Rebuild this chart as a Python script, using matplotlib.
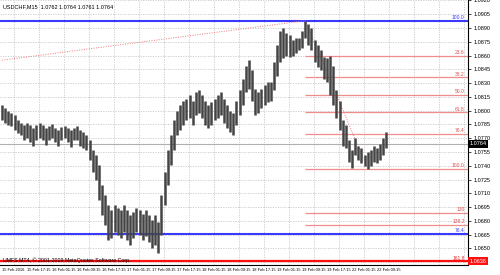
import matplotlib
matplotlib.use("Agg")
import matplotlib.pyplot as plt
import matplotlib.transforms as mtransforms
import numpy as np

plt.rcParams['font.family'] = ['Liberation Sans', 'DejaVu Sans']

title = "USDCHF,M15  1.0762 1.0764 1.0761 1.0764"
footer = "UMFS MT4, \u00a9 2001-2009 MetaQuotes Software Corp."

# hourly high / low
highs = [1.0806, 1.0803, 1.0800, 1.0798, 1.0795, 1.0790, 1.0787, 1.0784, 1.0787, 1.0784,
         1.0781, 1.0784, 1.0787, 1.0784, 1.0781, 1.0783, 1.0785, 1.0781, 1.0779, 1.0782,
         1.0783, 1.0781, 1.0779, 1.0781, 1.0783, 1.0779, 1.0777, 1.0773, 1.0768, 1.0757,
         1.0752, 1.0741, 1.0719, 1.0708, 1.0697, 1.0692, 1.0697, 1.0694, 1.0692, 1.0697,
         1.0692, 1.0686, 1.0690, 1.0694, 1.0692, 1.0687, 1.0692, 1.0686, 1.0681, 1.0686,
         1.0679, 1.0708, 1.0733, 1.0757, 1.0773, 1.0790, 1.0800, 1.0806, 1.0811, 1.0813,
         1.0817, 1.0811, 1.0820, 1.0822, 1.0817, 1.0811, 1.0806, 1.0809, 1.0813, 1.0817,
         1.0820, 1.0813, 1.0806, 1.0800, 1.0798, 1.0811, 1.0822, 1.0835, 1.0849, 1.0855,
         1.0844, 1.0824, 1.0820, 1.0824, 1.0828, 1.0831, 1.0831, 1.0853, 1.0871, 1.0887,
         1.0890, 1.0885, 1.0882, 1.0877, 1.0879, 1.0879, 1.0887, 1.0898, 1.0894, 1.0890,
         1.0877, 1.0871, 1.0866, 1.0859, 1.0857, 1.0860, 1.0849, 1.0822, 1.0811, 1.0790,
         1.0784, 1.0768, 1.0757, 1.0770, 1.0762, 1.0759, 1.0752, 1.0755, 1.0757, 1.0762,
         1.0759, 1.0764, 1.0770, 1.0777]
lows = [1.0790, 1.0787, 1.0784, 1.0783, 1.0779, 1.0776, 1.0773, 1.0768, 1.0770, 1.0766,
        1.0762, 1.0768, 1.0770, 1.0768, 1.0763, 1.0768, 1.0770, 1.0766, 1.0762, 1.0768,
        1.0770, 1.0766, 1.0761, 1.0768, 1.0768, 1.0762, 1.0759, 1.0757, 1.0746, 1.0733,
        1.0724, 1.0703, 1.0686, 1.0675, 1.0659, 1.0661, 1.0668, 1.0665, 1.0661, 1.0668,
        1.0659, 1.0654, 1.0661, 1.0668, 1.0665, 1.0659, 1.0663, 1.0657, 1.0650, 1.0654,
        1.0645, 1.0665, 1.0697, 1.0719, 1.0741, 1.0757, 1.0773, 1.0779, 1.0784, 1.0790,
        1.0792, 1.0784, 1.0795, 1.0798, 1.0792, 1.0784, 1.0781, 1.0784, 1.0790, 1.0792,
        1.0795, 1.0787, 1.0781, 1.0777, 1.0773, 1.0784, 1.0795, 1.0806, 1.0820, 1.0824,
        1.0811, 1.0795, 1.0798, 1.0803, 1.0806, 1.0809, 1.0811, 1.0822, 1.0838, 1.0853,
        1.0857, 1.0860, 1.0859, 1.0860, 1.0863, 1.0866, 1.0868, 1.0879, 1.0871, 1.0866,
        1.0853, 1.0848, 1.0844, 1.0835, 1.0831, 1.0817, 1.0806, 1.0792, 1.0779, 1.0762,
        1.0759, 1.0744, 1.0738, 1.0752, 1.0746, 1.0743, 1.0740, 1.0737, 1.0740, 1.0744,
        1.0743, 1.0746, 1.0752, 1.0759]
last_price = 1.0764

date_labels = ["15 Feb 2016", "15 Feb 17:15", "16 Feb 01:15", "16 Feb 09:15",
               "16 Feb 17:15", "17 Feb 01:15", "17 Feb 09:15", "17 Feb 17:15",
               "18 Feb 01:15", "18 Feb 09:15", "18 Feb 17:15", "19 Feb 01:15",
               "19 Feb 09:15", "19 Feb 17:15", "22 Feb 01:15", "22 Feb 09:15"]
price_ticks = [1.0920 - 0.0015 * k for k in range(20)]

fib_high, fib_low = 1.0898, 1.0737
fib_start = 97
fib_levels = [0.236, 0.382, 0.5, 0.618, 0.764, 1.0, 1.3, 1.382]
fib_names = ["23.6", "38.2", "50.0", "61.8", "76.4", "100.0", "130", "138.2"]
blue_lines = [(1.0898, "100.0"), (1.0666, "76.4")]
red_line = (1.0636, "161.8")
trend_start = 1.0855

fig = plt.figure(figsize=(5, 2.75), dpi=100)
ax = fig.add_axes([0, 10 / 275, 468 / 500, 265 / 275])

x = np.arange(len(highs))
x0, x1 = -0.64, 149.12
ax.set_xlim(x0, x1)
ax.set_ylim(1.0920 - 265 / 9200, 1.0920 + 0.5 / 9200)

# grid
grid_x = 3.68 + 8 * np.arange(19)
for gx in grid_x:
    ax.axvline(gx, color='#c8c8c8', lw=0.6, ls=(0, (1.5, 1.5)), zorder=0)
for p in price_ticks:
    ax.axhline(p, color='#c8c8c8', lw=0.6, ls=(0, (1.5, 1.5)), zorder=0)

# fibo levels
rng = fib_high - fib_low
trans = mtransforms.blended_transform_factory(ax.transAxes, ax.transData)
for r, name in zip(fib_levels, fib_names):
    lv = fib_high - r * rng
    ax.hlines(lv, fib_start, x1, color='#f08c8c', lw=0.9, zorder=1)
    ax.text(0.993, lv + 0.00006, name, transform=trans, ha='right', va='bottom',
            fontsize=3.6, color='#e05050')
for p, name in blue_lines:
    ax.axhline(p, color='#3a3aff', lw=1.5, zorder=1)
    ax.text(0.993, p + 0.00008, name, transform=trans, ha='right', va='bottom',
            fontsize=3.6, color='#3a3aff')
ax.axhline(red_line[0], color='#ff1010', lw=1.6, zorder=1)
ax.text(0.993, red_line[0] + 0.00008, red_line[1], transform=trans, ha='right',
        va='bottom', fontsize=3.6, color='#e03030')

# current price line
ax.axhline(last_price, color='#b0b0b0', lw=0.8, zorder=1)

# trend lines
ax.plot([0, fib_start], [trend_start, fib_high], color='#f07878', lw=0.7,
        ls=(0, (1, 1.5)), zorder=1)
ax.plot([fib_start, 117], [fib_high, fib_low], color='#f07878', lw=0.7,
        ls=(0, (1, 1.5)), zorder=1)

# bars
ax.vlines(x, lows, highs, color='#444444', lw=1.8, zorder=2)

# axes styling
for s in ['left', 'top']:
    ax.spines[s].set_visible(False)
ax.spines['right'].set_color('black')
ax.spines['bottom'].set_color('black')
ax.spines['right'].set_linewidth(0.8)
ax.spines['bottom'].set_linewidth(0.8)

ax.yaxis.tick_right()
ax.set_yticks(price_ticks[:-1])
ax.set_yticklabels(["%.4f" % p for p in price_ticks[:-1]])
ax.tick_params(axis='y', labelsize=4.0, length=2, width=0.5, pad=2)
ax.set_xticks(grid_x[:len(date_labels)])
ax.set_xticklabels(date_labels)
ax.tick_params(axis='x', labelsize=2.9, length=0, pad=2)

# price boxes on the axis
ax.text(1.004, last_price, "%.4f" % last_price, transform=trans, ha='left', va='center',
        fontsize=4.0, color='white', zorder=5,
        bbox=dict(boxstyle='square,pad=0.25', fc='black', ec='none'))
ax.text(1.004, red_line[0], "%.4f" % red_line[0], transform=trans, ha='left', va='center',
        fontsize=4.0, color='white', zorder=5,
        bbox=dict(boxstyle='square,pad=0.25', fc='#ff1010', ec='none'))

ax.text(0.006, 0.985, title, transform=ax.transAxes, ha='left', va='top', fontsize=4.0)
ax.text(0.006, 0.008, footer, transform=ax.transAxes, ha='left', va='bottom', fontsize=3.8)

fig.savefig("out.png", dpi=100, facecolor='white')
